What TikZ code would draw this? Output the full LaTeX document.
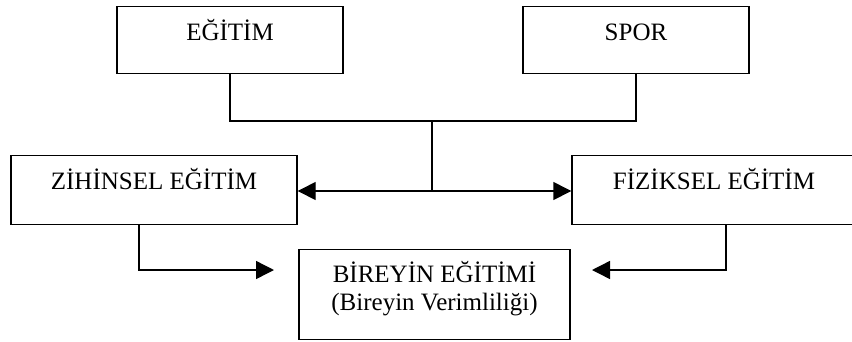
\documentclass[tikz,border=0pt]{standalone}
\usepackage{fontspec}
\setmainfont{Liberation Serif}
\usetikzlibrary{arrows.meta}
\begin{document}
\begin{tikzpicture}[x=1pt,y=-1pt,font=\fontsize{25}{28}\selectfont,
  kutu/.style={draw, line width=1.4pt, anchor=north, inner sep=0pt, text height=34pt, align=center},
  cizgi/.style={line width=1.4pt},
  ok/.style={line width=1.4pt, -{Triangle[length=18pt,width=18pt]}}]
\useasboundingbox (0,0) rectangle (852,341);
\node[kutu, minimum width=226pt, text depth=33pt] (egitim) at (230,6) {EĞİTİM};
\node[kutu, minimum width=226pt, text depth=33pt] (spor) at (636,6) {SPOR};
\node[kutu, minimum width=286pt, text depth=35pt] (zihinsel) at (154,155) {ZİHİNSEL EĞİTİM};
\node[kutu, minimum width=284pt, text depth=35pt] (fiziksel) at (714,155) {FİZİKSEL EĞİTİM};
\node[kutu, minimum width=271pt, text height=61pt, text depth=29pt] (birey) at (434.5,249) {BİREYİN EĞİTİMİ\\(Bireyin Verimliliği)};
\coordinate (birlesim) at (432,121);
\coordinate (orta) at (432,191);
\coordinate (soluc) at (274,270);
\coordinate (saguc) at (592,270);
\draw[cizgi] (egitim.south) |- (birlesim) -| (spor.south);
\draw[cizgi] (birlesim) -- (orta);
\draw[ok] (orta) -- (orta -| zihinsel.east);
\draw[ok] (orta) -- (orta -| fiziksel.west);
\draw[ok] ([xshift=-15pt]zihinsel.south) |- (soluc);
\draw[ok] ([xshift=12pt]fiziksel.south) |- (saguc);
\end{tikzpicture}
\end{document}
